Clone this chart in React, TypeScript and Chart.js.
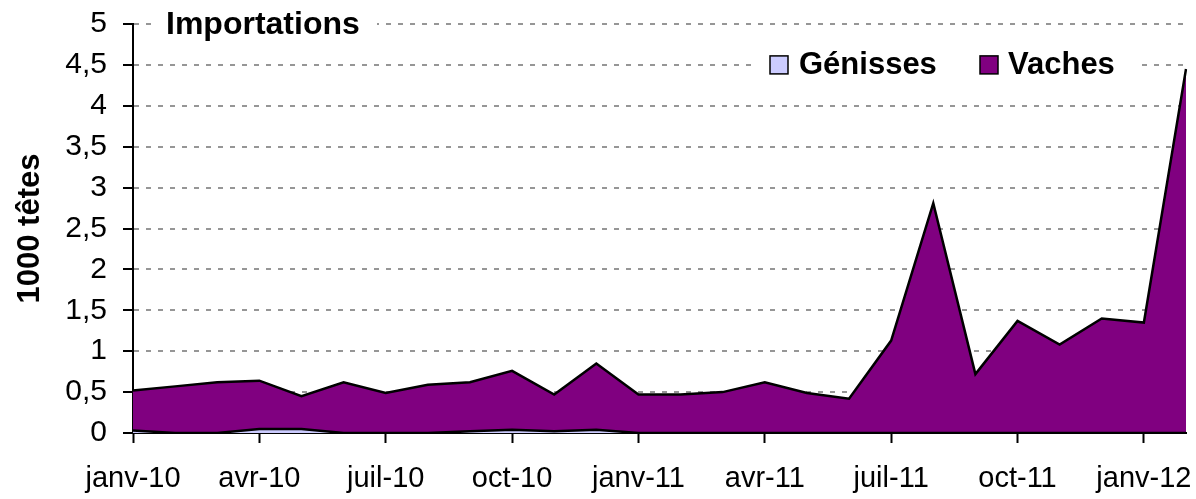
import React, { useEffect, useRef } from "react";
import { Chart, registerables } from "chart.js";

Chart.register(...registerables);

const months: string[] = [
  "janv-10", "févr-10", "mars-10", "avr-10", "mai-10", "juin-10",
  "juil-10", "août-10", "sept-10", "oct-10", "nov-10", "déc-10",
  "janv-11", "févr-11", "mars-11", "avr-11", "mai-11", "juin-11",
  "juil-11", "août-11", "sept-11", "oct-11", "nov-11", "déc-11",
  "janv-12", "févr-12",
];

const genisses: number[] = [
  0.03, 0, 0, 0.05, 0.05, 0, 0, 0, 0.02, 0.04, 0.02, 0.04,
  0, 0, 0, 0, 0, 0, 0, 0, 0, 0, 0, 0, 0, 0,
];

// total (top of stack)
const totals: number[] = [
  0.52, 0.57, 0.62, 0.64, 0.45, 0.62, 0.49, 0.59, 0.62, 0.76, 0.47, 0.85,
  0.47, 0.47, 0.5, 0.62, 0.49, 0.42, 1.13, 2.81, 0.72, 1.37, 1.08, 1.4,
  1.35, 4.45,
];

const vaches: number[] = totals.map((t, i) => Math.round((t - genisses[i]) * 100) / 100);

const titleText = "Importations";
const yTitle = "1000 têtes";
const legendItems = [
  { label: "Génisses", color: "#CCCCFF" },
  { label: "Vaches", color: "#800080" },
];

const FONT = "'Liberation Sans', Arial, sans-serif";

const overlayPlugin = {
  id: "overlay",
  afterDatasetsDraw(chart: any) {
    const ctx = chart.ctx;
    const area = chart.chartArea;
    const yScale = chart.scales.y;
    ctx.save();
    // title
    const yTop = yScale.getPixelForValue(5);
    ctx.fillStyle = "#ffffff";
    ctx.fillRect(152, yTop - 14, 225, 28);
    ctx.fillStyle = "#000000";
    ctx.font = `bold 32px ${FONT}`;
    ctx.textBaseline = "middle";
    ctx.textAlign = "left";
    ctx.fillText(titleText, 166, yTop + 1);

    // legend
    const yLeg = yScale.getPixelForValue(4.5);
    ctx.fillStyle = "#ffffff";
    ctx.fillRect(757, yLeg - 14, 382, 28);
    const boxes = [770, 980];
    const texts = [799, 1008];
    legendItems.forEach((it, i) => {
      ctx.fillStyle = it.color;
      ctx.fillRect(boxes[i], yLeg - 9, 18, 18);
      ctx.strokeStyle = "#000000";
      ctx.lineWidth = 1.5;
      ctx.strokeRect(boxes[i], yLeg - 9, 18, 18);
      ctx.fillStyle = "#000000";
      ctx.font = `bold 31px ${FONT}`;
      ctx.textBaseline = "middle";
      ctx.fillText(it.label, texts[i], yLeg + 1);
    });

    // y-axis title
    ctx.translate(30, (area.top + area.bottom) / 2);
    ctx.rotate(-Math.PI / 2);
    ctx.textAlign = "center";
    ctx.textBaseline = "middle";
    ctx.font = `bold 31px ${FONT}`;
    ctx.fillText(yTitle, 0, 0);
    ctx.restore();
  },
};

export default function App() {
  const ref = useRef<HTMLCanvasElement>(null);
  useEffect(() => {
    if (!ref.current) return;
    const chart = new Chart(ref.current, {
      type: "line",
      data: {
        labels: months,
        datasets: [
          {
            label: "Génisses",
            data: genisses,
            backgroundColor: "#CCCCFF",
            borderColor: "#000000",
            borderWidth: 2.5,
            fill: "origin",
            pointRadius: 0,
            tension: 0,
          },
          {
            label: "Vaches",
            data: vaches,
            backgroundColor: "#800080",
            borderColor: "#000000",
            borderWidth: 2.5,
            fill: "-1",
            pointRadius: 0,
            tension: 0,
          },
        ],
      },
      options: {
        animation: false,
        responsive: false,
        maintainAspectRatio: false,
        layout: { padding: { top: 24, right: 10, left: 0, bottom: 0 } },
        plugins: {
          legend: { display: false },
          title: { display: false },
          tooltip: { enabled: false },
        },
        scales: {
          x: {
            type: "category",
            offset: false,
            afterFit: (s: any) => {
              s.height = 66;
              s.paddingLeft = 0;
              s.paddingRight = 0;
            },
            grid: {
              drawOnChartArea: false,
              drawTicks: true,
              tickLength: 10,
              tickColor: "#000000",
              tickWidth: 2,
            },
            border: { display: true, color: "#000000", width: 2 },
            ticks: {
              autoSkip: false,
              maxRotation: 0,
              padding: 19,
              color: "#000000",
              font: { family: FONT, size: 29 },
              callback: (_v: any, i: number) => (i % 3 === 0 ? months[i] : null),
            },
          },
          y: {
            stacked: true,
            min: 0,
            max: 5,
            afterFit: (s: any) => {
              s.width = 133;
              s.paddingTop = 0;
              s.paddingBottom = 0;
            },
            grid: {
              color: (c: any) => (c.tick && c.tick.value === 0 ? "rgba(0,0,0,0)" : "#969696"),
              lineWidth: 2,
              tickLength: 10,
              tickColor: "#000000",
              tickWidth: 2,
              tickBorderDash: [],
            },
            border: { display: true, color: "#000000", width: 2, dash: [5, 7] },
            ticks: {
              stepSize: 0.5,
              padding: 16,
              color: "#000000",
              font: { family: FONT, size: 30 },
              callback: (v: any) => String(Math.round(v * 10) / 10).replace(".", ","),
            },
          },
        },
      },
      plugins: [overlayPlugin],
    });
    return () => chart.destroy();
  }, []);
  return (
    <div style={{ position: "absolute", left: 0, top: 0, width: 1196, height: 499, background: "#fff" }}>
      <canvas ref={ref} width={1196} height={499} style={{ display: "block" }} />
    </div>
  );
}
